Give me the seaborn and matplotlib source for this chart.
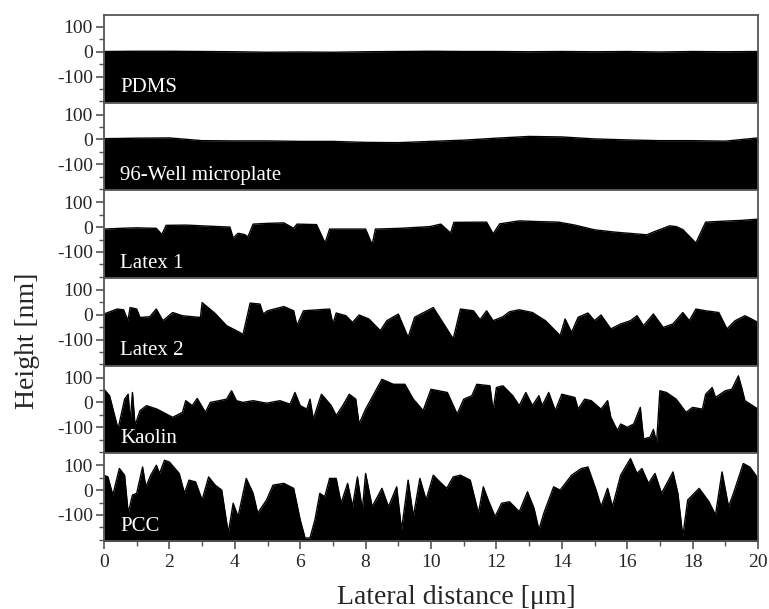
import numpy as np
import pandas as pd
import matplotlib
matplotlib.use('Agg')
import matplotlib.pyplot as plt
from matplotlib.ticker import MultipleLocator
import seaborn as sns

# ------------------------
# Profile data
# ------------------------
pdms_x = [0, 1, 2, 3, 4, 5, 6, 7, 8, 9, 10, 11, 12, 13, 14, 15, 16, 17, 18, 19, 20]
pdms_y = [1, 2, 2, 1, 0, -2, -1, -2, 0, 1, 2, 1, 1, 0, 1, 0, 1, -1, 1, 0, 1]

well_x = [0, 1, 2, 3, 4, 5, 6, 7, 8, 9, 10, 11, 12, 13, 14, 15, 16, 17, 18, 19, 20]
well_y = [3, 5, 6, -5, -6, -6, -8, -8, -12, -13, -8, -3, 5, 12, 10, 2, -2, -5, -5, -7, 6]

latex1_x = [0, 0.5, 1.0, 1.6, 1.77, 1.9, 2.5, 3.0, 3.5, 3.85, 3.95, 4.1, 4.3, 4.4, 4.56,
            5.0, 5.5, 5.8, 5.9, 6.5, 6.76, 6.9, 7.5, 8.0, 8.2, 8.3, 9.05, 9.97, 10.3,
            10.6, 10.7, 11.7, 11.9, 12.1, 12.7, 13.3, 13.9, 14.4, 15.0, 15.6, 16.6,
            16.8, 17.3, 17.5, 17.7, 18.1, 18.4, 19.0, 19.5, 20]
latex1_y = [-8, -5, -3, -5, -30, 7, 8, 5, 2, 0, -44, -25, -30, -40, 12,
            15, 17, -5, 12, 10, -64, -8, -8, -8, -71, -8, -5, 2, 12,
            -24, 19, 20, -27, 13, 25, 22, 20, 8, -11, -20, -31,
            -20, 5, 2, -10, -64, 20, 24, 27, 32]

latex2_x = [0, 0.4, 0.6, 0.73, 0.8, 1.0, 1.1, 1.4, 1.6, 1.8, 2.1, 2.4, 2.95, 3.0, 3.4,
            3.75, 4.15, 4.25, 4.47, 4.77, 4.87, 5.0, 5.5, 5.8, 5.9, 6.1, 6.9, 7.0, 7.1,
            7.4, 7.6, 7.8, 8.1, 8.45, 8.65, 9.0, 9.3, 9.5, 10.07, 10.68, 10.9, 11.3,
            11.5, 11.7, 11.9, 12.2, 12.4, 12.7, 13.1, 13.5, 13.95, 14.1, 14.3, 14.5,
            14.8, 15.0, 15.2, 15.5, 15.8, 16.1, 16.3, 16.5, 16.8, 17.1, 17.4, 17.7,
            17.9, 18.1, 18.4, 18.8, 19.05, 19.3, 19.6, 19.8, 20]
latex2_y = [3, 23, 20, -24, 29, 23, -11, -8, 23, -24, 9, -4, -11, 49, 5,
            -44, -71, -80, 47, 43, 3, 16, 33, 16, -44, 16, 23, -37, 7,
            -4, -31, -1, -17, -64, -24, 3, -91, -10, 29, -97, 23, 16,
            -20, 16, -24, -8, 12, 20, 9, -24, -84, -17, -71, -10,
            7, -24, -1, -57, -37, -24, -4, -44, 3, -51, -37, 9,
            -24, 23, 16, 9, -57, -24, -4, -17, -31]

kaolin_x = [0, 0.17, 0.43, 0.63, 0.74, 0.8, 0.87, 0.95, 1.1, 1.3, 1.62, 2.1, 2.4, 2.5,
            2.7, 2.85, 3.1, 3.25, 3.75, 3.9, 4.05, 4.25, 4.56, 4.97, 5.38, 5.69, 5.84,
            6.0, 6.2, 6.3, 6.4, 6.65, 6.95, 7.1, 7.3, 7.5, 7.7, 7.8, 8.0, 8.5, 8.85,
            9.2, 9.46, 9.76, 10.0, 10.5, 10.8, 11.0, 11.25, 11.4, 11.8, 11.9, 12.0,
            12.2, 12.5, 12.7, 12.9, 13.1, 13.3, 13.4, 13.6, 13.8, 14.0, 14.4, 14.5,
            14.7, 14.9, 15.2, 15.4, 15.5, 15.7, 15.8, 16.0, 16.2, 16.4, 16.5, 16.7,
            16.8, 16.9, 17.0, 17.2, 17.5, 17.8, 18.0, 18.3, 18.4, 18.6, 18.7, 19.0,
            19.2, 19.4, 19.5, 19.6, 20]
kaolin_y = [53, 27, -107, 13, 33, -80, 40, -93, -33, -13, -27, -60, -40, 7,
            -13, 16, -40, 0, 13, 47, 7, 0, 7, -3, 7, -7, 40,
            -13, -27, 13, -67, 33, -13, -53, -13, 33, 13, -87, -27, 93, 73,
            73, 13, -33, 53, 40, -47, 13, 27, 73, 67, -33, 60,
            67, 27, -13, 40, -13, 27, -13, 40, -33, 33, 20, -27,
            13, 7, -27, 7, -60, -113, -87, -100, -87, -20, -147, -140,
            -109, -160, 47, 40, 13, -40, -20, -27, 33, 60, 20, 47,
            53, 107, 60, 7, -27]

pcc_x = [0, 0.12, 0.27, 0.47, 0.63, 0.74, 0.87, 1.0, 1.18, 1.28, 1.43, 1.6, 1.7, 1.85,
         2.0, 2.3, 2.46, 2.6, 2.8, 3.0, 3.2, 3.4, 3.6, 3.8, 3.95, 4.1, 4.35, 4.56, 4.7,
         4.97, 5.17, 5.5, 5.8, 6.0, 6.15, 6.3, 6.45, 6.6, 6.75, 6.9, 7.1, 7.25, 7.45,
         7.6, 7.75, 7.9, 8.0, 8.2, 8.5, 8.7, 8.95, 9.1, 9.3, 9.46, 9.66, 9.85, 10.07,
         10.27, 10.48, 10.68, 10.9, 11.2, 11.45, 11.6, 11.75, 11.96, 12.16, 12.4,
         12.7, 12.95, 13.15, 13.3, 13.45, 13.75, 13.95, 14.3, 14.6, 14.8, 15.05,
         15.2, 15.4, 15.55, 15.8, 16.1, 16.3, 16.45, 16.65, 16.85, 17.05, 17.4,
         17.55, 17.7, 17.85, 18.2, 18.5, 18.7, 18.9, 19.1, 19.25, 19.55, 19.75, 20]
pcc_y = [60, 53, -20, 87, 60, -93, -20, -13, 93, 13, 60, 100, 67, 120,
         113, 67, -13, 40, 33, -40, 53, 20, 0, -173, -53, -107, 47, -13, -93,
         -40, 20, 27, 7, -120, -193, -193, -120, -13, -27, 47, 47, -53, 27,
         -67, 53, -80, 67, -67, 7, -67, 13, -160, 40, -107, 47, -40, 60,
         33, 7, 53, 60, 40, -93, 13, -40, -107, -53, -47,
         -87, -7, -73, -160, -93, 13, 0, 60, 87, 93, 0,
         -67, 7, -67, 60, 127, 67, 87, 27, 67, -13, 73,
         -13, -187, -40, 7, -47, -100, 73, -67, -13, 107, 93, 47]

panel_names = ['PDMS', '96-Well microplate', 'Latex 1', 'Latex 2', 'Kaolin', 'PCC']
panel_x = [pdms_x, well_x, latex1_x, latex2_x, kaolin_x, pcc_x]
panel_y = [pdms_y, well_y, latex1_y, latex2_y, kaolin_y, pcc_y]

x_ticks = [0, 2, 4, 6, 8, 10, 12, 14, 16, 18, 20]
y_ticks = [-100, 0, 100]

# ------------------------
# Style
# ------------------------
sns.set_theme(style='ticks')
plt.rcParams['font.family'] = ['Liberation Serif', 'DejaVu Serif']
plt.rcParams['axes.unicode_minus'] = False
spine_col = '#555555'

fig = plt.figure(figsize=(7.69, 6.09), dpi=100)
left, right = 104 / 769, 758 / 769
top, bottom = 1 - 15 / 609, 1 - 541 / 609
h = (top - bottom) / 6

for i, (name, xs, ys) in enumerate(zip(panel_names, panel_x, panel_y)):
    ax = fig.add_axes([left, top - (i + 1) * h, right - left, h])
    df = pd.DataFrame({'x': xs, 'y': ys})
    sns.lineplot(data=df, x='x', y='y', ax=ax, color='black', lw=1.0)
    ax.fill_between(df['x'], df['y'], -300, color='black', lw=0)
    ax.set_xlim(0, 20)
    ax.set_ylim(-205, 148)
    ax.set_yticks(y_ticks)
    ax.yaxis.set_minor_locator(MultipleLocator(50))
    ax.xaxis.set_major_locator(MultipleLocator(2))
    ax.xaxis.set_minor_locator(MultipleLocator(1))
    ax.tick_params(axis='y', which='major', direction='out', length=6, width=1.2,
                   color=spine_col, labelsize=14, pad=2)
    ax.tick_params(axis='y', which='minor', direction='out', length=3.5, width=1.0,
                   color=spine_col)
    ax.tick_params(axis='x', which='major', direction='out', length=6, width=1.2,
                   color=spine_col, labelsize=14)
    ax.tick_params(axis='x', which='minor', direction='out', length=3.5, width=1.0,
                   color=spine_col)
    ax.set_xlabel('')
    ax.set_ylabel('')
    for sp in ax.spines.values():
        sp.set_visible(True)
        sp.set_color(spine_col)
        sp.set_linewidth(1.3)
    if i < 5:
        ax.tick_params(axis='x', which='both', bottom=False, labelbottom=False)
    else:
        ax.set_xticks(x_ticks)
    ax.text(0.025, 0.06, name, transform=ax.transAxes, color='white',
            fontsize=15, ha='left', va='bottom')

fig.text(28 / 769, 1 - 341 / 609, 'Height [nm]', rotation=90, fontsize=20,
         ha='center', va='center')
fig.text(456 / 769, 1 - 597 / 609, 'Lateral distance [\u03bcm]', fontsize=20,
         ha='center', va='center')

fig.savefig('out.png', dpi=100)
